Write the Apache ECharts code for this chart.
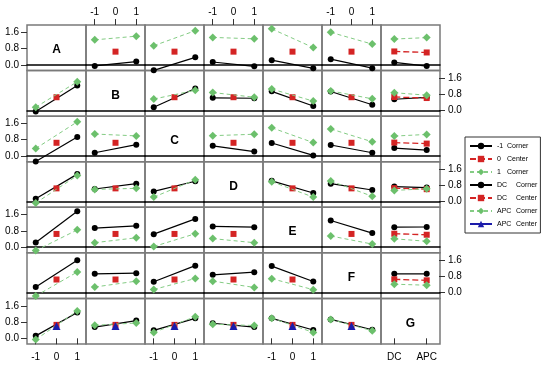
<!DOCTYPE html>
<html><head><meta charset="utf-8">
<script src="https://cdn.jsdelivr.net/npm/echarts@6/dist/echarts.min.js"></script>
<style>html,body{margin:0;padding:0;background:#fff}#c{width:550px;height:370px}</style>
</head><body><div id="c"></div>
<script>
// factors and tick labels
const factors = ['A', 'B', 'C', 'D', 'E', 'F', 'G'];
const xTicks = [-1, 0, 1];
const gTicks = ['DC', 'APC'];
const yTicks = [0, 0.8, 1.6];

// 2x2 cell means for each factor pair: [lo/lo, lo/hi, hi/lo, hi/hi]
// (first letter = first factor, second letter = second factor; for G lo=DC, hi=APC)
const AB = [-0.05, 0.16, 1.23, 1.41];
const AC = [-0.27, 0.37, 0.94, 1.68];
const AD = [0.14, -0.07, 1.35, 1.28];
const AE = [0.23, -0.17, 1.77, 0.85];
const AF = [0.28, -0.16, 1.60, 1.02];
const AG = [0.12, -0.06, 1.27, 1.34];
const BC = [0.16, 1.08, 0.56, 0.99];
const BD = [0.62, 0.60, 0.88, 0.65];
const BE = [0.94, 0.22, 1.05, 0.46];
const BF = [0.93, 0.28, 0.96, 0.57];
const BG = [0.55, 0.64, 0.87, 0.75];
const CD = [0.50, 0.22, 1.00, 1.07];
const CE = [0.64, 0.03, 1.39, 0.66];
const CF = [0.54, 0.16, 1.33, 0.70];
const CG = [0.39, 0.29, 0.98, 1.06];
const DE = [1.02, 0.42, 0.98, 0.22];
const DF = [0.88, 0.57, 1.01, 0.26];
const DG = [0.74, 0.69, 0.55, 0.63];
const EF = [1.31, 0.69, 0.55, 0.15];
const EG = [0.98, 0.99, 0.41, 0.29];
const FG = [0.93, 0.93, 0.42, 0.37];

// center point means
const centerMean = 0.65;
const gCenter = [0.66, 0.61]; // DC, APC

const legendNames = ['-1 Corner', '0 Center', '1 Corner', 'DC Corner', 'DC Center', 'APC Corner', 'APC Center'];

const pairs = {AB, AC, AD, AE, AF, AG, BC, BD, BE, BF, BG, CD, CE, CF, CG, DE, DF, DG, EF, EG, FG};

const FONT = '"Liberation Sans", Arial, sans-serif';
const L = 27, T = 25, CW = 59, RH = 319 / 7;
const N = factors.length;
const Y_MIN = -0.28, Y_MAX = 1.96;

const styles = {
  '-1 Corner': {color: '#000', symbol: 'circle', size: 6, line: {color: '#000', width: 1.2, type: 'solid'}, z: 2},
  'DC Corner': {color: '#000', symbol: 'circle', size: 6, line: {color: '#000', width: 1.2, type: 'solid'}, z: 2},
  '0 Center': {color: '#d42424', symbol: 'rect', size: 6, line: {color: '#d42424', width: 1.3, type: [6, 3]}, z: 3},
  'DC Center': {color: '#d42424', symbol: 'rect', size: 6, line: {color: '#d42424', width: 1.3, type: [6, 3]}, z: 3},
  '1 Corner': {color: '#6cc06c', symbol: 'diamond', size: 8, line: {color: '#84cc84', width: 1, type: [4, 3]}, z: 4},
  'APC Corner': {color: '#6cc06c', symbol: 'diamond', size: 8, line: {color: '#84cc84', width: 1, type: [4, 3]}, z: 4},
  'APC Center': {color: '#1c1caa', symbol: 'triangle', size: 8, line: {color: '#1c1caa', width: 1.2, type: 'solid'}, z: 5}
};

function mkSeries(name, idx, data) {
  const s = styles[name];
  return {
    type: 'line', name, xAxisIndex: idx, yAxisIndex: idx, data,
    symbol: s.symbol, symbolSize: s.size, showSymbol: true, clip: false, silent: true,
    itemStyle: {color: s.color}, lineStyle: s.line, z: s.z, animation: false
  };
}

const grid = [], xAxis = [], yAxis = [], series = [], graphic = [];
const tickLabel = {fontSize: 10, color: '#000', fontFamily: FONT, margin: 8};
const hiddenAxisParts = {axisLine: {show: false}, axisTick: {show: false}, axisLabel: {show: false}, splitLine: {show: false}};

for (let r = 0; r < N; r++) {
  for (let c = 0; c < N; c++) {
    const idx = r * N + c;
    const isG = c === N - 1;
    grid.push({left: L + c * CW, top: T + r * RH, width: CW, height: RH, show: true,
      borderColor: '#7a7a7a', borderWidth: 1.5, containLabel: false});
    const showBottom = r === N - 1 && c % 2 === 0;
    const xVals = isG ? [0, 1] : xTicks;
    const xFmt = isG ? (v => gTicks[Math.round(v)]) : (v => String(Math.round(v)));
    xAxis.push({type: 'value', gridIndex: idx, position: 'bottom', z: 3,
      min: isG ? -0.41 : -1.42, max: isG ? 1.41 : 1.42,
      axisLine: {show: r < N - 1, lineStyle: {color: '#000', width: 1.5}},
      splitLine: {show: false},
      axisTick: {show: showBottom, customValues: xVals, length: 6, lineStyle: {color: '#333'}},
      axisLabel: Object.assign({show: showBottom, customValues: xVals, formatter: xFmt}, tickLabel)});
    yAxis.push(Object.assign({type: 'value', gridIndex: idx, position: 'left', min: Y_MIN, max: Y_MAX, show: false}, hiddenAxisParts));

    if (r === c) {
      graphic.push({type: 'text', x: L + c * CW + CW / 2, y: T + r * RH + RH / 2 + 2, silent: true,
        style: {text: factors[r], font: 'bold 12px ' + FONT, fill: '#000', align: 'center', verticalAlign: 'middle'}});
      continue;
    }
    const fr = factors[r], fc = factors[c];
    let lo, hi;
    if (r < c) { const p = pairs[fr + fc]; lo = [p[0], p[1]]; hi = [p[2], p[3]]; }
    else { const p = pairs[fc + fr]; lo = [p[0], p[2]]; hi = [p[1], p[3]]; }
    const xs = isG ? [0, 1] : [xTicks[0], xTicks[2]];
    const loData = [[xs[0], lo[0]], [xs[1], lo[1]]];
    const hiData = [[xs[0], hi[0]], [xs[1], hi[1]]];
    if (r === N - 1) {
      series.push(mkSeries('DC Corner', idx, loData));
      series.push(mkSeries('DC Center', idx, [[xTicks[1], gCenter[0]]]));
      series.push(mkSeries('APC Corner', idx, hiData));
      series.push(mkSeries('APC Center', idx, [[xTicks[1], gCenter[1]]]));
    } else {
      series.push(mkSeries('-1 Corner', idx, loData));
      if (isG) series.push(mkSeries('0 Center', idx, [[0, gCenter[0]], [1, gCenter[1]]]));
      else series.push(mkSeries('0 Center', idx, [[xTicks[1], centerMean]]));
      series.push(mkSeries('1 Corner', idx, hiData));
    }
  }
}

// top tick labels on row 1, columns B, D, F
for (let c = 1; c < N - 1; c += 2) {
  xAxis.push({type: 'value', gridIndex: c, position: 'top', min: -1.42, max: 1.42,
    axisLine: {show: false}, splitLine: {show: false},
    axisTick: {show: true, customValues: xTicks, length: 6, lineStyle: {color: '#333'}},
    axisLabel: Object.assign({show: true, customValues: xTicks, formatter: v => String(Math.round(v))}, tickLabel)});
}

// y tick-label axes: left on rows A, C, E, G; right on rows B, D, F
const pxPerUnit = RH / (Y_MAX - Y_MIN);
const yLo = yTicks[0], yHi = yTicks[yTicks.length - 1];
for (let r = 0; r < N; r++) {
  const right = r % 2 === 1;
  const gi = grid.length;
  grid.push({left: right ? L + N * CW - 1 : L, width: 1,
    top: T + r * RH + (Y_MAX - yHi) * pxPerUnit, height: (yHi - yLo) * pxPerUnit, show: false});
  xAxis.push(Object.assign({type: 'value', gridIndex: gi, show: false, min: 0, max: 1}, hiddenAxisParts));
  yAxis.push({type: 'value', gridIndex: gi, position: right ? 'right' : 'left',
    min: yLo, max: yHi, interval: yTicks[1] - yTicks[0],
    axisLine: {show: false}, splitLine: {show: false},
    axisTick: {show: true, length: 6, lineStyle: {color: '#333'}},
    axisLabel: Object.assign({show: true, formatter: v => v.toFixed(1)}, tickLabel)});
}

const option = {
  animation: false,
  backgroundColor: '#fff',
  grid, xAxis, yAxis, series, graphic,
  legend: {
    data: legendNames, orient: 'vertical', left: 465, top: 137,
    padding: [5, 3, 5, 4], itemGap: 5, itemWidth: 22, itemHeight: 8,
    borderColor: '#333', borderWidth: 1, selectedMode: false,
    textStyle: {fontSize: 7, color: '#000', fontFamily: FONT, lineHeight: 8,
      rich: {n: {width: 10, fontSize: 7, fontFamily: FONT, color: '#000', lineHeight: 8},
             w: {width: 19, fontSize: 7, fontFamily: FONT, color: '#000', lineHeight: 8},
             t: {fontSize: 7, fontFamily: FONT, color: '#000', lineHeight: 8}}},
    formatter: name => {
      const parts = name.split(' ');
      const wide = parts[0] === 'DC' || parts[0] === 'APC';
      return '{' + (wide ? 'w' : 'n') + '|' + parts[0] + '}{t|' + parts[1] + '}';
    }
  }
};

const chart = echarts.init(document.getElementById('c'), null, {renderer: 'canvas'});
chart.setOption(option);
</script>
</body></html>
